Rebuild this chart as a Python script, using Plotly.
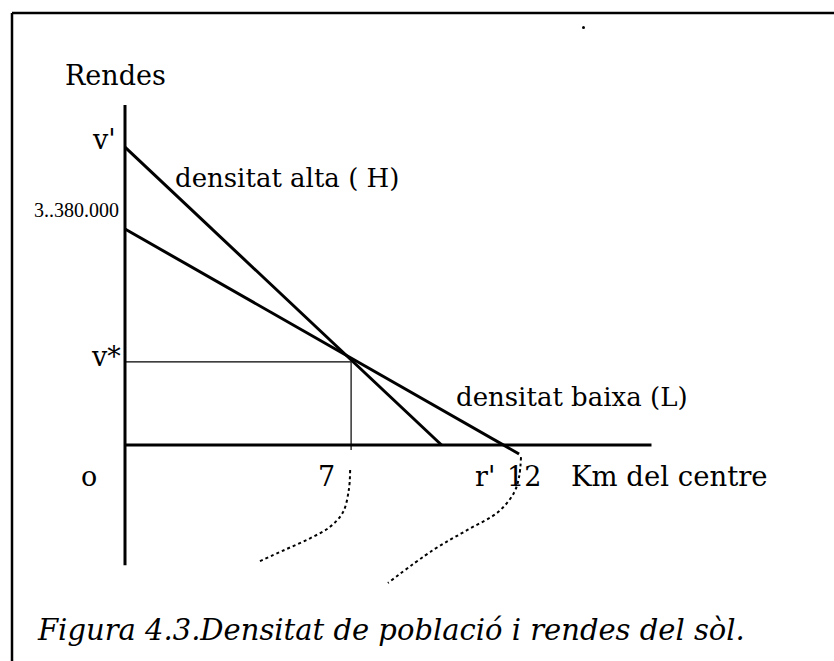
import plotly.graph_objects as go

# ---- data (km from centre, rents in millions) ----
h_km = [0, 9.8]            # densitat alta (H): v' at centre, r' on axis
h_rent = [4.66, 0.0]
l_km = [0, 12.2]           # densitat baixa (L): 3.380.000 at centre
l_rent = [3.38, -0.14]
x_star = 7.0               # km where both rents are equal
v_star = 1.30              # v*

curve1_km = [6.97, 6.93, 6.75, 6.35, 5.73, 4.95, 4.12]
curve1_y = [-0.39, -0.70, -1.05, -1.28, -1.46, -1.64, -1.83]
curve2_km = [12.26, 12.2, 12.04, 11.55, 10.6, 9.55, 8.14]
curve2_y = [-0.19, -0.50, -0.75, -1.05, -1.33, -1.64, -2.16]

axis_x_max = 16.3
axis_y_top = 5.32
axis_y_bottom = -1.88

OFF = 0                    # page margin removed by post_script
SW, SH = 834, 661          # screen size
W, H = SW, SH
KX = 32.3                  # px per km
KY = 216 / 3.38            # px per million
X0, Y0 = 125, 445          # screen pixel of origin

def px(x):
    return (x - OFF) / W

def py(y):
    return 1 - (y - OFF) / H

SERIF = "DejaVu Serif, serif"
SERIF2 = "Liberation Serif, serif"

fig = go.Figure()

fig.add_trace(go.Scatter(x=h_km, y=h_rent, mode="lines",
                         line=dict(color="black", width=3), hoverinfo="skip"))
fig.add_trace(go.Scatter(x=l_km, y=l_rent, mode="lines",
                         line=dict(color="black", width=3), hoverinfo="skip"))
fig.add_trace(go.Scatter(x=[0, x_star, x_star], y=[v_star, v_star, -0.08], mode="lines",
                         line=dict(color="black", width=1.2), hoverinfo="skip"))
fig.add_trace(go.Scatter(x=curve1_km, y=curve1_y, mode="lines", line_shape="spline",
                         line=dict(color="black", width=2, dash="dot"), hoverinfo="skip"))
fig.add_trace(go.Scatter(x=curve2_km, y=curve2_y, mode="lines", line_shape="spline",
                         line=dict(color="black", width=2, dash="dot"), hoverinfo="skip"))

shapes = [
    # axes
    dict(type="line", xref="x", yref="y", x0=0, x1=axis_x_max, y0=0, y1=0,
         line=dict(color="black", width=3)),
    dict(type="line", xref="x", yref="y", x0=0, x1=0, y0=axis_y_bottom, y1=axis_y_top,
         line=dict(color="black", width=3)),
    # frame
    dict(type="line", xref="paper", yref="paper", x0=px(12), x1=1, y0=py(13), y1=py(13),
         line=dict(color="black", width=2.5)),
    dict(type="line", xref="paper", yref="paper", x0=px(12), x1=px(12), y0=py(13), y1=0,
         line=dict(color="black", width=2.5)),
    # speck
    dict(type="circle", xref="paper", yref="paper", x0=px(582), x1=px(585), y0=py(26), y1=py(29),
         fillcolor="black", line=dict(width=0)),
]

def ann(text, x, y, size, xanchor="left", italic=False, family=SERIF):
    return dict(text=("<i>%s</i>" % text) if italic else text, x=px(x), y=py(y),
                xref="paper", yref="paper", xanchor=xanchor, yanchor="middle",
                showarrow=False, font=dict(family=family, size=size, color="black"))

annotations = [
    ann("Rendes", 63, 75, 27),
    ann("v'", 118, 140, 27, "right"),
    ann("3..380.000", 121, 210, 20, "right", family=SERIF2),
    ann("densitat alta ( H)", 173, 178, 26),
    ann("v*", 123, 357, 27, "right"),
    ann("densitat baixa (L)", 454, 397, 26),
    ann("o", 89, 476, 27, "center"),
    ann("7", 326, 476, 27, "center"),
    ann("r'", 485, 476, 27, "center"),
    ann("12", 524, 476, 27, "center"),
    ann("Km del centre", 569, 476, 27.5),
    ann("Figura 4.3.Densitat de població i rendes del sòl.", 35, 630, 29, italic=True),
]

fig.update_layout(
    width=W, height=H,
    margin=dict(l=0, r=0, t=0, b=0),
    paper_bgcolor="white", plot_bgcolor="white",
    showlegend=False,
    shapes=shapes,
    annotations=annotations,
    xaxis=dict(range=[(OFF - X0) / KX, (SW - OFF - X0) / KX], visible=False, fixedrange=True),
    yaxis=dict(range=[(Y0 - (SH - OFF)) / KY, (Y0 - OFF) / KY], visible=False, fixedrange=True),
)

fig.write_html(
    "out.html",
    config={"displayModeBar": False},
    post_script="document.body.style.margin='0';"
                "document.body.style.overflow='hidden';"
                "document.documentElement.style.overflow='hidden';",
)
